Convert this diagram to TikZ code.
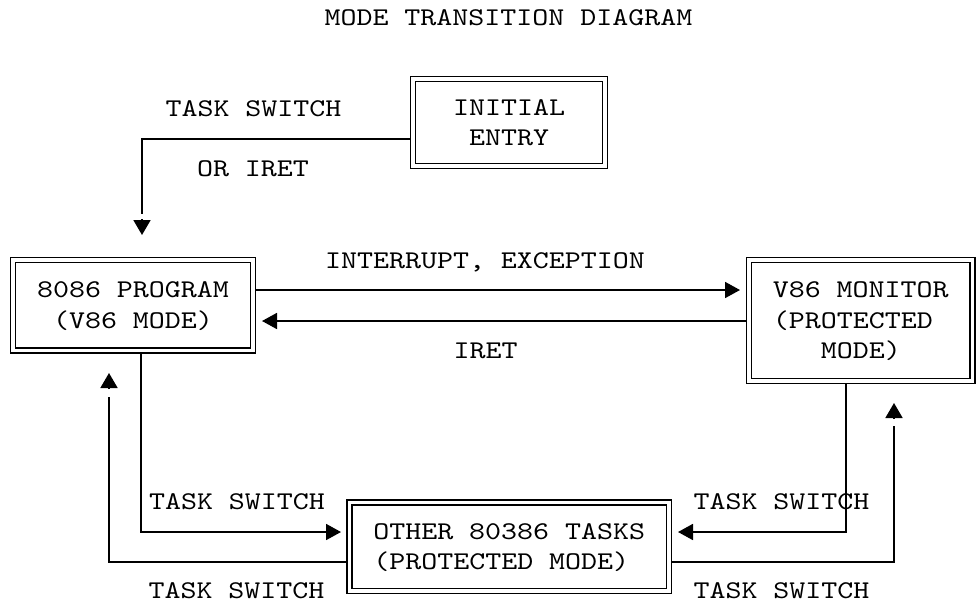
\documentclass[tikz,border=0pt]{standalone}
\usepackage{fontspec}
\setmonofont{lmmono10-regular.otf}[FakeStretch=1.195]
\usetikzlibrary{arrows.meta,backgrounds}
\begin{document}
\begin{tikzpicture}[x=1pt,y=-1pt,
  every node/.style={font=\ttfamily\fontsize{25.5}{30.5}\selectfont, inner sep=0pt, outer sep=0pt},
  dbox/.style={draw, double, line width=1.8pt, double distance=3.2pt, text depth=0pt},
  lbl/.style={text depth=0pt},
  conn/.style={line width=1.8pt},
  harr/.style={conn, -{Triangle[length=15pt,width=16pt]}},
  vhead/.style={conn, -{Triangle[length=15pt,width=17pt]}},
]
\useasboundingbox (0,0) rectangle (977,603);

% boxes
\node[dbox, minimum width=192pt, minimum height=87pt, align=center] (init) at (509,122.5) {INITIAL\\ENTRY};
\node[dbox, minimum width=240pt, minimum height=90.5pt, align=center] (prog) at (133,305.25) {8086 PROGRAM\\(V86 MODE)};
\node[dbox, minimum width=223.5pt, minimum height=121pt, align=left] (mon) at (860.75,320.5) {V86 MONITOR\\(PROTECTED\\\hphantom{MOD}MODE)};
\node[dbox, minimum width=319.5pt, minimum height=88.5pt, align=left] (other) at (509.25,546.75) {OTHER 80386 TASKS\\(PROTECTED MODE)};

% labels
\node[lbl] (title) at (508.5,18) {MODE TRANSITION DIAGRAM};
\node[lbl] (l1) at (253.5,109) {TASK SWITCH};
\node[lbl] (l2) at (253,169) {OR IRET};
\node[lbl] (l3) at (485,261) {INTERRUPT, EXCEPTION};
\node[lbl] (l4) at (485.5,350.5) {IRET};
\node[lbl] (l5) at (237,502) {TASK SWITCH};
\node[lbl] (l6) at (236.5,591) {TASK SWITCH};
\node[lbl] (l7) at (781.5,502) {TASK SWITCH};
\node[lbl] (l8) at (781.5,591) {TASK SWITCH};

% corner coordinates
\coordinate (k1) at (142,139);
\coordinate (k2) at (141,532);
\coordinate (k3) at (109,562);
\coordinate (k4) at (846,532);
\coordinate (k5) at (894,562);
\coordinate (ya) at (0,290);
\coordinate (yb) at (0,321);
\coordinate (h1) at (0,219);
\coordinate (h3) at (0,389);
\coordinate (h5) at (0,419);

\begin{pgfonlayer}{background}
  \fill[white] (0,0) rectangle (977,603);
  % initial entry -> 8086 program
  \draw[conn, shorten >=46pt] (init.west |- k1) -- (k1) -- (k1 |- prog.north);
  \draw[vhead, shorten >=25pt] (k1 |- h1) -- (k1 |- prog.north);
  % 8086 <-> V86 monitor
  \draw[harr, shorten >=9pt] (prog.east |- ya) -- (mon.west |- ya);
  \draw[harr, shorten >=9pt] (mon.west |- yb) -- (prog.east |- yb);
  % 8086 -> other tasks
  \draw[harr, shorten >=8.5pt] (prog.south -| k2) -- (k2) -- (other.west |- k2);
  % other tasks -> 8086
  \draw[conn, shorten >=46.5pt] (other.west |- k3) -- (k3) -- (k3 |- prog.south);
  \draw[vhead, shorten >=22.5pt] (k3 |- h3) -- (k3 |- prog.south);
  % V86 monitor -> other tasks
  \draw[harr, shorten >=9pt] (mon.south -| k4) -- (k4) -- (other.east |- k4);
  % other tasks -> V86 monitor
  \draw[conn, shorten >=45pt] (other.east |- k5) -- (k5) -- (k5 |- mon.south);
  \draw[vhead, shorten >=22pt] (k5 |- h5) -- (k5 |- mon.south);
\end{pgfonlayer}
\end{tikzpicture}
\end{document}
